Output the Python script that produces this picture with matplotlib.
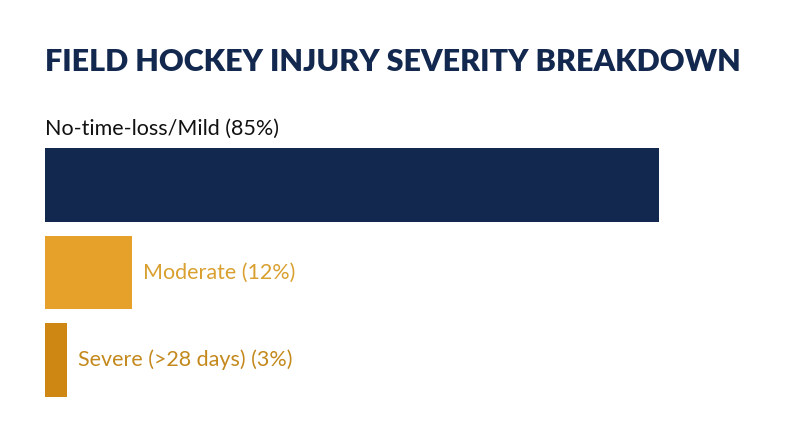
import matplotlib
matplotlib.use("Agg")
import matplotlib.pyplot as plt

categories = ["No-time-loss/Mild", "Moderate", "Severe (>28 days)"]
values = [85, 12, 3]
colors = ["#13284f", "#e6a12a", "#cf8714"]
text_colors = ["#111111", "#d9a030", "#c4891c"]

W, H = 800, 447
fig = plt.figure(figsize=(8, 4.47), dpi=100)
fig.patch.set_facecolor("white")
ax = fig.add_axes([45 / W, (H - 397) / H, 722 / W, 249 / H])
ax.set_xlim(0, 100)
ax.set_ylim(2.42, -0.42)
ax.axis("off")
ax.barh(range(len(values)), values, height=0.84, color=colors)
for i, (c, v) in enumerate(zip(categories, values)):
    label = f"{c} ({v}%)"
    if i == 0:
        ax.text(0, i - 0.52, label, ha="left", va="bottom", fontsize=15.5,
                color=text_colors[i], family="Lato")
    else:
        ax.annotate(label, (v, i), xytext=(8, 0), textcoords="offset points",
                    ha="left", va="center", fontsize=15.5,
                    color=text_colors[i], family="Lato")

fig.text(45 / W, (H - 62) / H, "FIELD HOCKEY INJURY SEVERITY BREAKDOWN",
         ha="left", va="center", fontsize=22, fontweight="heavy",
         color="#13284f", family="Lato")
fig.savefig("out.png", dpi=100)
